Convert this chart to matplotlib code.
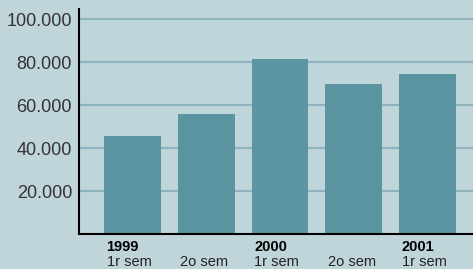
import matplotlib.pyplot as plt
import matplotlib.transforms as mtransforms
import numpy as np

plt.rcParams['font.family'] = ['Liberation Sans', 'DejaVu Sans']

semesters = ['1r sem', '2o sem', '1r sem', '2o sem', '1r sem']
years = ['1999', '', '2000', '', '2001']
values = [45600, 55800, 81400, 69800, 74400]
yticks = [20000, 40000, 60000, 80000, 100000]

bg = '#c0d5da'
bar_col = '#5c95a2'
grid_col = '#8fb3bf'

fig = plt.figure(figsize=(4.73, 2.69), dpi=100, facecolor=bg)
ax = fig.add_axes([0.167, 0.130, 0.833, 0.8365])
ax.set_facecolor(bg)

x = np.arange(len(values))
ax.bar(x, values, width=0.77, color=bar_col, zorder=2)

ax.set_xlim(-0.723, 4.615)
ax.set_ylim(0, 104650)
ax.set_yticks(yticks)
ax.set_yticklabels([f'{v:,}'.replace(',', '.') for v in yticks])
ax.yaxis.grid(True, color=grid_col, linewidth=1.6, zorder=0)
ax.set_axisbelow(True)

for s in ['top', 'right']:
    ax.spines[s].set_visible(False)
for s in ['left', 'bottom']:
    ax.spines[s].set_linewidth(1.5)
    ax.spines[s].set_color('black')

ax.tick_params(axis='y', length=0, pad=5, labelsize=13, labelcolor='#333333')
ax.set_xticks(x)
ax.set_xticklabels([])
ax.tick_params(axis='x', length=0)

# two-line category labels: bold year above, semester below, left-aligned
trans = mtransforms.blended_transform_factory(ax.transData, ax.transAxes)
for i in range(len(values)):
    if years[i]:
        ax.text(i - 0.35, -0.028, years[i], transform=trans, ha='left', va='top',
                fontsize=10.5, fontweight='bold', color='black')
    ax.text(i - 0.35, -0.092, semesters[i], transform=trans, ha='left', va='top',
            fontsize=10.5, color='#222222')

fig.savefig('out.png', dpi=100, facecolor=bg)
